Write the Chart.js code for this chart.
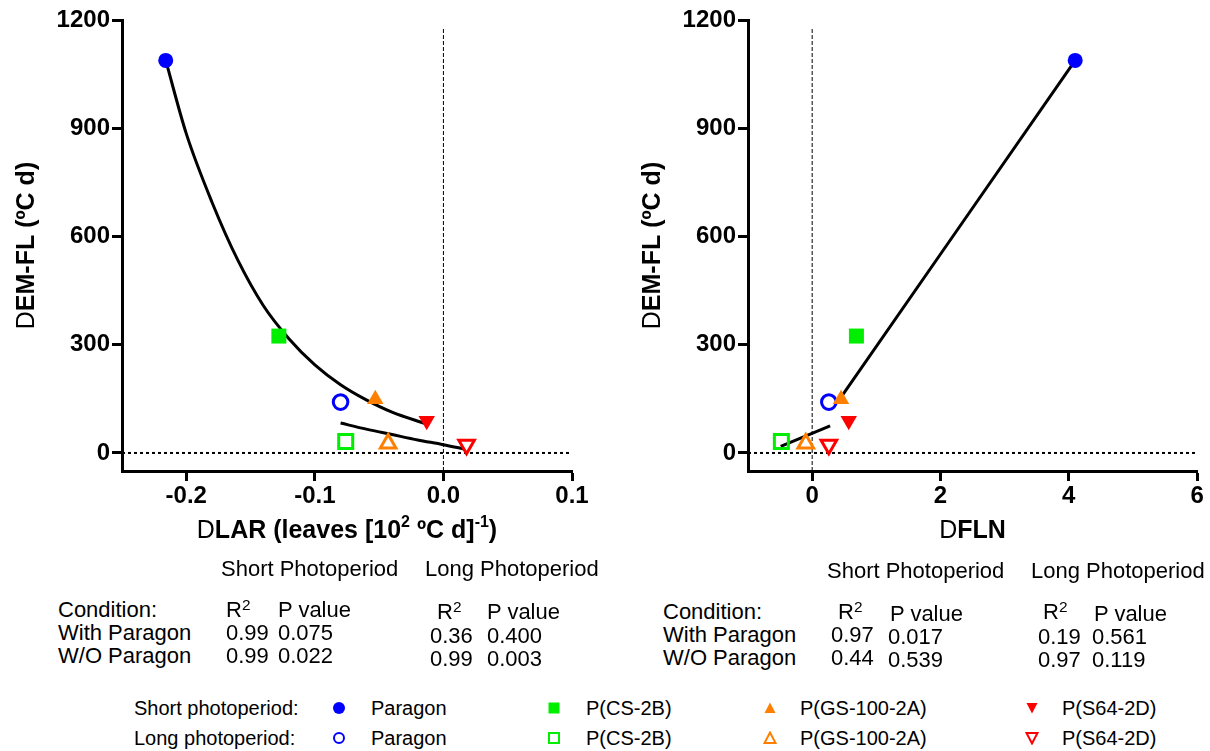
<!DOCTYPE html>
<html>
<head>
<meta charset="utf-8">
<script src="https://cdn.jsdelivr.net/npm/chart.js@4.4.1/dist/chart.umd.min.js"></script>
<style>
  body { margin: 0; background: #fff; width: 1210px; height: 751px; position: relative; overflow: hidden;
         font-family: "Liberation Sans", Arial, Helvetica, sans-serif; color: #000; }
  canvas { position: absolute; top: 0; }
  #leftChart { left: 0; }
  #rightChart { left: 600px; }
  .t { position: absolute; white-space: nowrap; }
  .sup { font-size: 0.7em; position: relative; top: -0.5em; line-height: 0; }
  .mk { position: absolute; }
</style>
</head>
<body>
<canvas id="leftChart" width="600" height="560"></canvas>
<canvas id="rightChart" width="610" height="560"></canvas>
<script>
const family = '"Liberation Sans", Arial, Helvetica, sans-serif';

// genotypes, in legend order
const lines = ['Paragon', 'P(CS-2B)', 'P(GS-100-2A)', 'P(S64-2D)'];
const lineColors = ['#0000ff', '#00ee00', '#ff8000', '#ff0000'];

// ΔEM-FL (ºC d), same for both panels
const emflShort = [1088, 324, 149, 89];
const emflLong = [141, 32, 26, 23];

// ΔLAR and ΔFLN
const larShort = [-0.216, -0.128, -0.053, -0.013];
const larLong = [-0.080, -0.076, -0.043, 0.018];
const flnShort = [4.10, 0.69, 0.45, 0.57];
const flnLong = [0.26, -0.48, -0.10, 0.26];

// fitted curves
const larFitShortX = [-0.216, -0.2, -0.18, -0.16, -0.14, -0.12, -0.1, -0.08, -0.06, -0.04, -0.013];
const larFitShortY = [1088, 885, 695, 535, 408, 316, 244, 189, 147, 113, 80];
const larFitLongX = [-0.08, -0.06, -0.04, -0.02, 0, 0.016];
const larFitLongY = [83, 66, 51, 36, 23, 11];
const flnFitShortX = [0.44, 4.10];
const flnFitShortY = [152, 1088];
const flnFitLongX = [-0.49, 0.28];
const flnFitLongY = [18, 75];

// ticks
const yTicks = [0, 300, 600, 900, 1200];
const larTicks = [-0.2, -0.1, 0.0, 0.1];
const flnTicks = [0, 2, 4, 6];

// regression stats
const statRows = ['With Paragon', 'W/O Paragon'];
const larShortR2 = ['0.99', '0.99'];
const larShortP = ['0.075', '0.022'];
const larLongR2 = ['0.36', '0.99'];
const larLongP = ['0.400', '0.003'];
const flnShortR2 = ['0.97', '0.44'];
const flnShortP = ['0.017', '0.539'];
const flnLongR2 = ['0.19', '0.97'];
const flnLongP = ['0.561', '0.119'];

const markerStyles = ['circle', 'rect', 'triangle', 'triangle'];
const markerRotation = [0, 0, 0, 180];

function pts(xs, ys) {
    return xs.map((x, i) => ({ x: x, y: ys[i] }));
}

function drawRich(ctx, parts, cx, base) {
    const fontOf = p => {
        if (p[1] === 'sup') return 'bold 16px ' + family;
        return (p[1] === 'bold' ? 'bold ' : '') + '25px ' + family;
    };
    let total = 0;
    parts.forEach(p => { ctx.font = fontOf(p); total += ctx.measureText(p[0]).width; });
    let x = cx - total / 2;
    parts.forEach(p => {
        ctx.font = fontOf(p);
        ctx.fillText(p[0], x, p[1] === 'sup' ? base - 11 : base);
        x += ctx.measureText(p[0]).width;
    });
}

const axisTitles = {
    id: 'axisTitles',
    afterDraw(chart, args, opts) {
        const ctx = chart.ctx;
        const a = chart.chartArea;
        ctx.save();
        ctx.fillStyle = '#000';
        ctx.textBaseline = 'alphabetic';
        drawRich(ctx, opts.x, (a.left + a.right) / 2, 538);
        ctx.translate(a.left - 97, (a.top + a.bottom) / 2);
        ctx.rotate(-Math.PI / 2);
        drawRich(ctx, opts.y, 0, 9);
        ctx.restore();
    }
};

function makeChart(id, cfg) {
    const tickFont = { family: family, size: 24, weight: 'bold' };
    const datasets = [
        {
            data: pts(cfg.shortX, emflShort),
            pointStyle: markerStyles,
            rotation: markerRotation,
            pointRadius: [7.5, 10.6, 9.5, 9.5],
            backgroundColor: lineColors,
            borderColor: lineColors,
            borderWidth: 0
        },
        {
            data: pts(cfg.longX, emflLong),
            pointStyle: markerStyles,
            rotation: markerRotation,
            pointRadius: [7.3, 9.9, 9, 9],
            backgroundColor: 'rgba(255,255,255,0)',
            borderColor: lineColors,
            borderWidth: 3
        },
        {
            data: pts(cfg.fitShortX, cfg.fitShortY),
            showLine: true, borderColor: '#000', borderWidth: 3, pointRadius: 0,
            cubicInterpolationMode: 'monotone'
        },
        {
            data: pts(cfg.fitLongX, cfg.fitLongY),
            showLine: true, borderColor: '#000', borderWidth: 3, pointRadius: 0,
            cubicInterpolationMode: 'monotone'
        },
        {
            data: [{ x: 0, y: -50 }, { x: 0, y: 1175 }],
            showLine: true, borderColor: '#000', borderWidth: 1, borderDash: [4, 2], pointRadius: 0
        },
        {
            data: [{ x: cfg.xMin, y: 0 }, { x: cfg.xMax, y: 0 }],
            showLine: true, borderColor: '#000', borderWidth: 2, borderDash: [3, 3], pointRadius: 0
        }
    ];

    return new Chart(document.getElementById(id), {
        type: 'scatter',
        data: { datasets: datasets },
        plugins: [axisTitles],
        options: {
            responsive: false,
            animation: false,
            devicePixelRatio: 1,
            layout: { padding: { left: 0, top: 20, right: cfg.padRight, bottom: 0 } },
            plugins: {
                legend: { display: false },
                tooltip: { enabled: false },
                axisTitles: { x: cfg.xTitle, y: [['D', 'normal'], ['EM-FL (ºC d)', 'bold']] }
            },
            scales: {
                x: {
                    type: 'linear', min: cfg.xMin, max: cfg.xMax,
                    afterBuildTicks: s => { s.ticks = cfg.xTicks.map(v => ({ value: v })); },
                    afterFit: s => { s.height = 89; },
                    border: { display: true, color: '#000', width: 3 },
                    grid: { drawOnChartArea: false, drawTicks: true, tickLength: 10, tickWidth: 3, tickColor: '#000' },
                    ticks: { color: '#000', font: tickFont, padding: 1, maxRotation: 0, autoSkip: false, callback: cfg.xFmt }
                },
                y: {
                    type: 'linear', min: -50, max: 1200,
                    afterBuildTicks: s => { s.ticks = yTicks.map(v => ({ value: v })); },
                    afterFit: s => { s.width = cfg.yWidth; },
                    border: { display: true, color: '#000', width: 3 },
                    grid: { drawOnChartArea: false, drawTicks: true, tickLength: 10, tickWidth: 3, tickColor: '#000' },
                    ticks: { color: '#000', font: tickFont, padding: 2, autoSkip: false, callback: v => String(v) }
                }
            }
        }
    });
}

makeChart('leftChart', {
    shortX: larShort, longX: larLong,
    fitShortX: larFitShortX, fitShortY: larFitShortY,
    fitLongX: larFitLongX, fitLongY: larFitLongY,
    xMin: -0.25, xMax: 0.1, xTicks: larTicks, xFmt: v => v.toFixed(1),
    yWidth: 122, padRight: 28,
    xTitle: [['D', 'normal'], ['LAR (leaves [10', 'bold'], ['2', 'sup'], [' ºC d]', 'bold'], ['-1', 'sup'], [')', 'bold']]
});

makeChart('rightChart', {
    shortX: flnShort, longX: flnLong,
    fitShortX: flnFitShortX, fitShortY: flnFitShortY,
    fitLongX: flnFitLongX, fitLongY: flnFitLongY,
    xMin: -1, xMax: 6, xTicks: flnTicks, xFmt: v => String(v),
    yWidth: 148, padRight: 12,
    xTitle: [['D', 'normal'], ['FLN', 'bold']]
});

// text placed by baseline
function addText(html, x, base, size) {
    const d = document.createElement('div');
    d.className = 't';
    d.style.fontSize = size + 'px';
    d.style.lineHeight = size + 'px';
    d.style.left = x + 'px';
    d.style.top = (base - size * 0.8465) + 'px';
    d.innerHTML = html;
    document.body.appendChild(d);
}

const R2 = 'R<span class="sup">2</span>';

// left table
addText('Short Photoperiod', 221, 577, 22);
addText('Long Photoperiod', 425, 577, 22);
addText('Condition:', 58, 618, 22);
addText(R2, 226, 618, 22);
addText('P value', 278, 618, 22);
addText(R2, 437, 620, 22);
addText('P value', 487, 620, 22);
statRows.forEach((r, i) => {
    const b = 641 + 23 * i;
    addText(r, 58, b, 22);
    addText(larShortR2[i], 226, b, 22);
    addText(larShortP[i], 278, b, 22);
    addText(larLongR2[i], 430, b + 3, 22);
    addText(larLongP[i], 487, b + 3, 22);
});

// right table
addText('Short Photoperiod', 827, 579, 22);
addText('Long Photoperiod', 1031, 579, 22);
addText('Condition:', 663, 620, 22);
addText(R2, 838, 620, 22);
addText('P value', 890, 622, 22);
addText(R2, 1043, 620, 22);
addText('P value', 1094, 622, 22);
statRows.forEach((r, i) => {
    const b = 643 + 23 * i;
    addText(r, 663, b, 22);
    addText(flnShortR2[i], 831, b, 22);
    addText(flnShortP[i], 888, b + 2, 22);
    addText(flnLongR2[i], 1038, b + 2, 22);
    addText(flnLongP[i], 1092, b + 2, 22);
});

// legend
function marker(i, filled, cx, cy) {
    const s = 14;
    const c = lineColors[i];
    const fill = filled ? c : 'none';
    let shape;
    if (i === 0) shape = `<circle cx="7" cy="7" r="${filled ? 6 : 5}" fill="${fill}" stroke="${c}" stroke-width="${filled ? 0 : 2}"/>`;
    else if (i === 1) shape = filled ? `<rect x="1.5" y="1.5" width="11" height="11" fill="${c}"/>`
                                     : `<rect x="2" y="2" width="10" height="10" fill="none" stroke="${c}" stroke-width="2"/>`;
    else if (i === 2) shape = `<polygon points="7,1.5 12.5,12 1.5,12" fill="${fill}" stroke="${c}" stroke-width="${filled ? 0 : 2}"/>`;
    else shape = `<polygon points="1.5,2 12.5,2 7,12.5" fill="${fill}" stroke="${c}" stroke-width="${filled ? 0 : 2}"/>`;
    const d = document.createElement('div');
    d.className = 'mk';
    d.style.left = (cx - s / 2) + 'px';
    d.style.top = (cy - s / 2) + 'px';
    d.innerHTML = `<svg width="${s}" height="${s}">${shape}</svg>`;
    document.body.appendChild(d);
}

const legendRows = ['Short photoperiod:', 'Long photoperiod:'];
const markerX = [339, 554, 770, 1032];
const labelX = [371, 586, 800, 1062];
legendRows.forEach((row, r) => {
    const base = 715 + 30 * r;
    addText(row, 134, base, 20);
    lines.forEach((name, i) => {
        marker(i, r === 0, markerX[i], base - 7);
        addText(name, labelX[i], base, 20);
    });
});
</script>
</body>
</html>
